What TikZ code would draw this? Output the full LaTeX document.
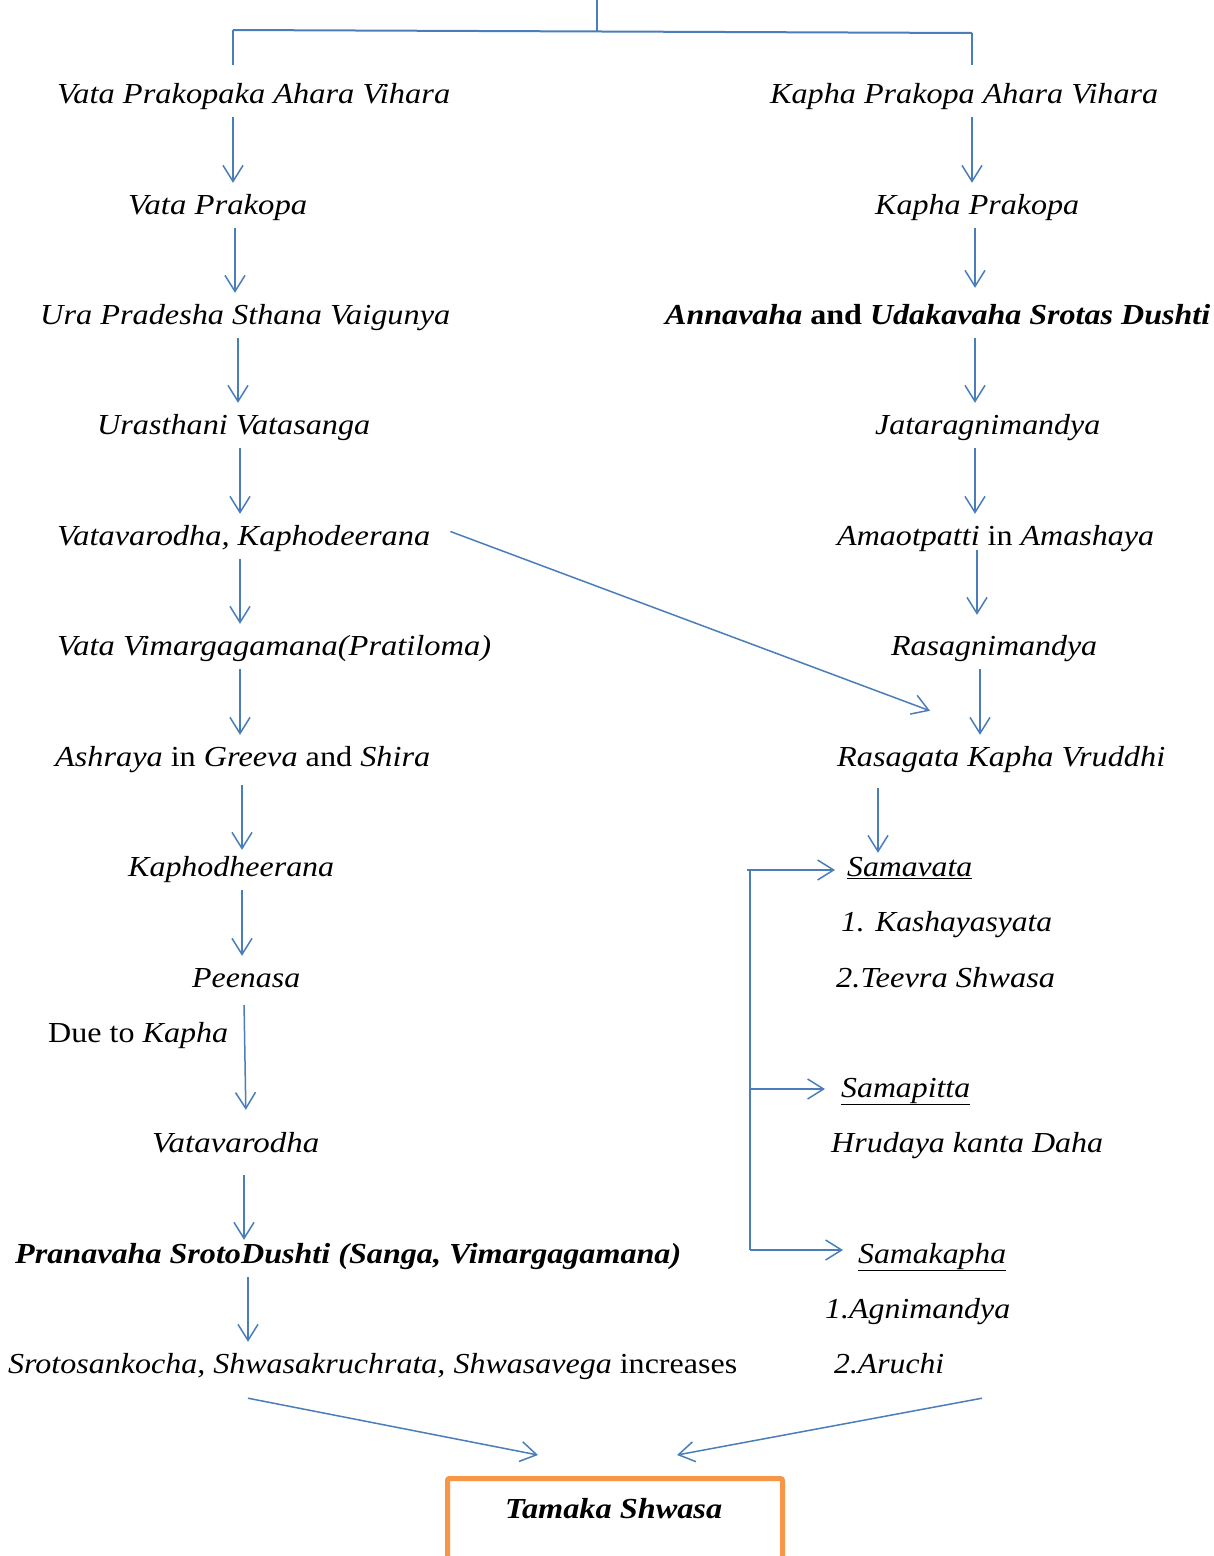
\documentclass[tikz,border=0pt]{standalone}
\usepackage{fontspec}
\usepackage{graphicx}
\setmainfont{Liberation Serif}
\usetikzlibrary{arrows.meta}
\definecolor{lnblue}{HTML}{4A7EBB}
\definecolor{boxorange}{HTML}{F79646}
\newcommand\fw[2]{\resizebox{#1pt}{\height}{#2}}
\tikzset{
  lbl/.style={inner sep=0pt, anchor=base west, text height=31pt, text depth=14pt,
              font=\fontsize{29}{34}\selectfont\itshape},
  ln/.style={draw=lnblue, line width=1.5pt},
  arr/.style={ln, -{Straight Barb[length=16pt,width=20pt,line width=1.5pt]}},
  tbox/.style={draw=boxorange, line width=5pt, rounded corners=2pt, minimum width=335pt,
               minimum height=140pt, anchor=north, inner sep=0pt}
}
\begin{document}
\begin{tikzpicture}[x=1pt,y=-1pt]
\useasboundingbox[fill=white] (0,0) rectangle (1214,1556);
% left column
\node[lbl] (vpa)  at (57,103)  {\fw{393}{Vata Prakopaka Ahara Vihara}};
\node[lbl] (vp)   at (128,214) {\fw{179}{Vata Prakopa}};
\node[lbl] (ura)  at (40,324)  {\fw{410}{Ura Pradesha Sthana Vaigunya}};
\node[lbl] (urv)  at (97,434)  {\fw{273}{Urasthani Vatasanga}};
\node[lbl] (vk)   at (57,545)  {\fw{373}{Vatavarodha, Kaphodeerana}};
\node[lbl] (vvm)  at (57,655)  {\fw{434}{Vata Vimargagamana(Pratiloma)}};
\node[lbl] (ash)  at (55,766)  {\fw{375}{Ashraya \textup{in} Greeva \textup{and} Shira}};
\node[lbl] (kaph) at (128,876) {\fw{206}{Kaphodheerana}};
\node[lbl] (pee)  at (192,987) {\fw{108}{Peenasa}};
\node[lbl] (due)  at (48,1042) {\fw{180}{\textup{Due to} Kapha}};
\node[lbl] (vav)  at (152,1152) {\fw{167}{Vatavarodha}};
\node[lbl] (pran) at (15,1263) {\fw{666}{\bfseries Pranavaha SrotoDushti (Sanga, Vimargagamana)}};
\node[lbl] (srot) at (8,1373)  {\fw{729}{Srotosankocha, Shwasakruchrata, Shwasavega \textup{increases}}};
% right column
\node[lbl] (kpa)  at (770,103) {\fw{388}{Kapha Prakopa Ahara Vihara}};
\node[lbl] (kp)   at (875,214) {\fw{204}{Kapha Prakopa}};
\node[lbl] (anna) at (665,324) {\fw{545}{\bfseries Annavaha \textup{and} Udakavaha Srotas Dushti}};
\node[lbl] (jat)  at (875,434) {\fw{225}{Jataragnimandya}};
\node[lbl] (ama)  at (837,545) {\fw{317}{Amaotpatti \textup{in} Amashaya}};
\node[lbl] (rasa) at (891,655) {\fw{206}{Rasagnimandya}};
\node[lbl] (rkv)  at (837,766) {\fw{328}{Rasagata Kapha Vruddhi}};
\node[lbl] (samv) at (847,876) {\fw{125}{\underline{Samavata}}};
\node[lbl] (kash) at (841,931) {\fw{211}{1. Kashayasyata}};
\node[lbl] (teev) at (836,987) {\fw{219}{2.Teevra Shwasa}};
\node[lbl] (samp) at (841,1097) {\fw{129}{\underline{Samapitta}}};
\node[lbl] (hrud) at (831,1152) {\fw{272}{Hrudaya kanta Daha}};
\node[lbl] (samk) at (858,1263) {\fw{148}{\underline{Samakapha}}};
\node[lbl] (agni) at (825,1318) {\fw{185}{1.Agnimandya}};
\node[lbl] (aru)  at (834,1373) {\fw{110}{2.Aruchi}};
% result box
\node[tbox] (box) at (615,1476) {};
\node[lbl] (tam) at (505,1518) {\fw{217}{\bfseries Tamaka Shwasa}};
% top split
\coordinate (top) at (597,0);
\coordinate (jn) at (597,31);
\coordinate (bl) at (233,30);
\coordinate (br) at (972,33);
\draw[ln] (top) -- (jn);
\draw[ln, line width=2pt] (bl) -- (br);
\draw[ln, shorten >=7pt] (bl) -- (vpa.north -| bl);
\draw[ln, shorten >=7pt] (br) -- (kpa.north -| br);
% left arrows
\draw[arr] (vpa.south -| 233,0) -- (vp.north -| 233,0);
\draw[arr] (vp.south -| 235,0) -- (ura.north -| 235,0);
\draw[arr] (ura.south -| 238,0) -- (urv.north -| 238,0);
\draw[arr] (urv.south -| 240,0) -- (vk.north -| 240,0);
\draw[arr] (vk.south -| 240,0) -- (vvm.north -| 240,0);
\draw[arr] (vvm.south -| 240,0) -- (ash.north -| 240,0);
\draw[arr, shorten <=5pt, shorten >=-5pt] (ash.south -| 242,0) -- (kaph.north -| 242,0);
\draw[arr] (kaph.south -| 242,0) -- (pee.north -| 242,0);
\draw[arr, shorten <=4pt, shorten >=11pt] (pee.south -| 244,0) -- (vav.north -| 246,0);
\draw[arr, shorten <=9pt, shorten >=-8pt] (vav.south -| 244,0) -- (pran.north -| 244,0);
\draw[arr] (pran.south -| 248,0) -- (srot.north -| 248,0);
% right arrows
\draw[arr] (kpa.south -| 972,0) -- (kp.north -| 972,0);
\draw[arr, shorten >=5pt] (kp.south -| 975,0) -- (anna.north -| 975,0);
\draw[arr] (anna.south -| 975,0) -- (jat.north -| 975,0);
\draw[arr] (jat.south -| 975,0) -- (ama.north -| 975,0);
\draw[arr, shorten <=-9pt, shorten >=9pt] (ama.south -| 977,0) -- (rasa.north -| 977,0);
\draw[arr] (rasa.south -| 980,0) -- (rkv.north -| 980,0);
\draw[arr, shorten <=8pt, shorten >=-8pt] (rkv.south -| 878,0) -- (samv.north -| 878,0);
% diagonal
\draw[arr] ([shift={(20,-5)}]vk.east) -- ([shift={(93,-24)}]rkv.north west);
% bracket
\coordinate (bv) at ([yshift=-2.5pt]samv.west);
\coordinate (bp) at ([yshift=-0.5pt]samp.west);
\coordinate (bk) at ([yshift=4.5pt]samk.west);
\draw[ln] (bv -| 750,0) -- (bk -| 750,0);
\draw[arr] (bv -| 747,0) -- ([xshift=-12pt]bv);
\draw[arr] (bp -| 750,0) -- ([xshift=-16pt]bp);
\draw[arr] (bk -| 750,0) -- ([xshift=-15pt]bk);
% to result
\coordinate (sl) at ([yshift=-11pt]srot.south);
\coordinate (sr) at ([yshift=-11pt]aru.south);
\draw[arr] (sl -| 248,0) -- ([shift={(93,-21)}]box.north west);
\draw[arr] (sr -| 982,0) -- ([shift={(-108,-21)}]box.north east);
\end{tikzpicture}
\end{document}
